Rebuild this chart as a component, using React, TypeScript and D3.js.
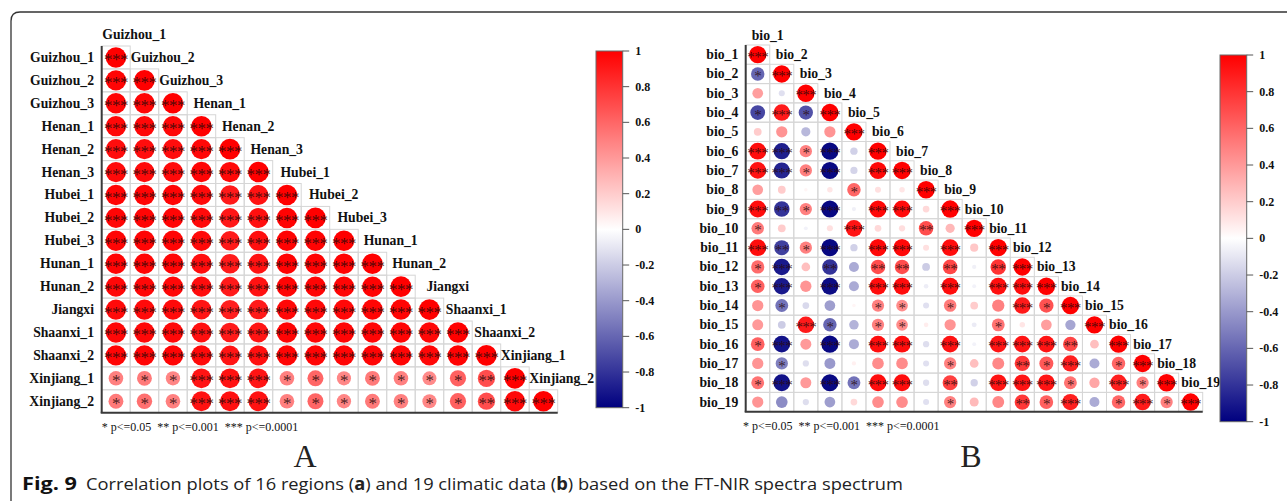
import React from "react";
import * as d3 from "d3";

// Panel A: sampling regions
const regions = [
  "Guizhou_1", "Guizhou_2", "Guizhou_3", "Henan_1", "Henan_2", "Henan_3",
  "Hubei_1", "Hubei_2", "Hubei_3", "Hunan_1", "Hunan_2", "Jiangxi",
  "Shaanxi_1", "Shaanxi_2", "Xinjiang_1", "Xinjiang_2",
];

// lower triangle (row i holds columns 0..i)
const regionCorr: number[][] = [
  [1],
  [0.98, 1],
  [0.98, 0.98, 1],
  [0.97, 0.97, 0.97, 1],
  [0.95, 0.95, 0.95, 0.97, 1],
  [0.96, 0.96, 0.96, 0.98, 0.97, 1],
  [0.98, 0.98, 0.98, 0.96, 0.9, 0.93, 1],
  [0.98, 0.98, 0.98, 0.96, 0.91, 0.94, 0.99, 1],
  [0.98, 0.98, 0.98, 0.96, 0.9, 0.94, 0.99, 0.99, 1],
  [0.98, 0.98, 0.98, 0.95, 0.9, 0.93, 0.99, 0.99, 0.99, 1],
  [0.97, 0.97, 0.97, 0.95, 0.9, 0.93, 0.98, 0.98, 0.98, 0.99, 1],
  [0.96, 0.96, 0.96, 0.92, 0.88, 0.9, 0.97, 0.97, 0.97, 0.98, 0.98, 1],
  [0.97, 0.97, 0.97, 0.94, 0.9, 0.92, 0.98, 0.98, 0.98, 0.98, 0.98, 0.97, 1],
  [0.98, 0.98, 0.98, 0.96, 0.92, 0.94, 0.98, 0.98, 0.98, 0.98, 0.98, 0.97, 0.99, 1],
  [0.5, 0.52, 0.48, 0.92, 0.93, 0.92, 0.5, 0.6, 0.47, 0.52, 0.5, 0.46, 0.62, 0.7, 1],
  [0.52, 0.56, 0.5, 0.93, 0.94, 0.93, 0.5, 0.6, 0.48, 0.52, 0.5, 0.47, 0.62, 0.7, 0.97, 1],
];

// significance level per cell: 0 none, 1 *, 2 **, 3 ***
const regionStars: number[][] = [
  [3],
  [3, 3],
  [3, 3, 3],
  [3, 3, 3, 3],
  [3, 3, 3, 3, 3],
  [3, 3, 3, 3, 3, 3],
  [3, 3, 3, 3, 3, 3, 3],
  [3, 3, 3, 3, 3, 3, 3, 3],
  [3, 3, 3, 3, 3, 3, 3, 3, 3],
  [3, 3, 3, 3, 3, 3, 3, 3, 3, 3],
  [3, 3, 3, 3, 3, 3, 3, 3, 3, 3, 3],
  [3, 3, 3, 3, 3, 3, 3, 3, 3, 3, 3, 3],
  [3, 3, 3, 3, 3, 3, 3, 3, 3, 3, 3, 3, 3],
  [3, 3, 3, 3, 3, 3, 3, 3, 3, 3, 3, 3, 3, 3],
  [1, 1, 1, 3, 3, 3, 1, 1, 1, 1, 1, 1, 1, 2, 3],
  [1, 1, 1, 3, 3, 3, 1, 1, 1, 1, 1, 1, 1, 2, 3, 3],
];

// Panel B: bioclimatic variables
const bioVars = [
  "bio_1", "bio_2", "bio_3", "bio_4", "bio_5", "bio_6", "bio_7", "bio_8", "bio_9", "bio_10",
  "bio_11", "bio_12", "bio_13", "bio_14", "bio_15", "bio_16", "bio_17", "bio_18", "bio_19",
];

const bioCorr: number[][] = [
  [1],
  [-0.6, 1],
  [0.38, -0.12, 1],
  [-0.72, 0.9, -0.68, 1],
  [0.2, 0.42, -0.28, 0.42, 1],
  [0.95, -0.88, 0.5, -0.97, -0.18, 1],
  [0.93, -0.86, 0.5, -0.97, -0.17, 0.97, 1],
  [0.38, 0.2, 0.04, 0.1, 0.6, 0.12, 0.1, 1],
  [0.95, -0.8, 0.5, -0.97, -0.06, 0.97, 0.96, 0.15, 1],
  [0.52, 0.2, -0.05, 0.12, 0.92, 0.15, 0.13, 0.7, 0.28, 1],
  [0.95, -0.75, 0.5, -0.97, -0.18, 0.97, 0.97, 0.12, 0.95, 0.22, 1],
  [0.58, -0.9, 0.25, -0.8, -0.33, 0.7, 0.7, -0.2, 0.72, -0.06, 0.8, 1],
  [0.62, -0.9, 0.42, -0.95, -0.33, 0.95, 0.95, -0.07, 0.95, -0.05, 0.94, 0.95, 1],
  [0.42, -0.55, -0.15, -0.38, 0.04, 0.5, 0.45, -0.12, 0.52, 0.2, 0.5, 0.9, 0.68, 1],
  [0.4, -0.2, 0.9, -0.6, -0.3, 0.5, 0.45, 0.07, 0.42, -0.08, 0.55, 0.1, 0.38, -0.35, 1],
  [0.62, -0.93, 0.4, -0.97, -0.33, 0.95, 0.95, -0.13, 0.93, -0.05, 0.92, 0.92, 0.92, 0.72, 0.25, 1],
  [0.42, -0.5, -0.13, -0.4, 0.06, 0.45, 0.45, -0.12, 0.5, 0.25, 0.47, 0.78, 0.65, 0.88, -0.33, 0.6, 1],
  [0.55, -0.93, 0.4, -0.97, -0.55, 0.95, 0.95, -0.13, 0.75, -0.18, 0.92, 0.92, 0.92, 0.55, 0.35, 0.88, 0.5, 1],
  [0.42, -0.45, -0.13, -0.38, 0.15, 0.45, 0.45, -0.12, 0.5, 0.27, 0.47, 0.78, 0.62, 0.88, -0.33, 0.6, 0.9, 0.5, 1],
];

const bioStars: number[][] = [
  [3],
  [1, 3],
  [0, 0, 3],
  [1, 3, 1, 3],
  [0, 0, 0, 0, 3],
  [3, 3, 1, 3, 0, 3],
  [3, 3, 1, 3, 0, 3, 3],
  [0, 0, 0, 0, 1, 0, 0, 3],
  [3, 2, 1, 3, 0, 3, 3, 0, 3],
  [1, 0, 0, 0, 3, 0, 0, 2, 0, 3],
  [3, 2, 1, 3, 0, 3, 3, 0, 3, 0, 3],
  [1, 3, 0, 2, 0, 2, 2, 0, 2, 0, 2, 3],
  [1, 3, 0, 3, 0, 3, 3, 0, 3, 0, 3, 3, 3],
  [0, 1, 0, 0, 0, 1, 1, 0, 1, 0, 0, 3, 1, 3],
  [0, 0, 3, 1, 0, 1, 1, 0, 0, 0, 1, 0, 0, 0, 3],
  [1, 3, 0, 3, 0, 3, 3, 0, 3, 0, 3, 3, 3, 2, 0, 3],
  [0, 1, 0, 0, 0, 0, 0, 0, 1, 0, 0, 2, 1, 3, 0, 1, 3],
  [1, 3, 0, 3, 1, 3, 3, 0, 2, 0, 3, 3, 3, 1, 0, 3, 1, 3],
  [0, 0, 0, 0, 0, 0, 0, 0, 1, 0, 0, 2, 1, 3, 0, 1, 3, 1, 3],
];

const legendTicks = [1, 0.8, 0.6, 0.4, 0.2, 0, -0.2, -0.4, -0.6, -0.8, -1];
const sigNote = "* p<=0.05  ** p<=0.001  *** p<=0.0001";
const panelNames = ["A", "B"];

const SERIF = "'Liberation Serif', 'Times New Roman', serif";
const SANS = "'Open Sans', 'Liberation Sans', sans-serif";

const colorScale = d3
  .scaleLinear<string>()
  .domain([-1, 0, 1])
  .range(["#00007f", "#ffffff", "#ff0000"]);

type PanelProps = {
  labels: string[];
  corr: number[][];
  stars: number[][];
  left: number;
  right: number;
  top: number;
  bottom: number;
  rowLabelX: number;
  colLabelShift: number;
  labelSize: number;
  starSize: number;
};

function CorrPanel(p: PanelProps) {
  const x = d3.scaleBand<string>().domain(p.labels).range([p.left, p.right]);
  const y = d3.scaleBand<string>().domain(p.labels).range([p.top, p.bottom]);
  const cw = x.bandwidth();
  const ch = y.bandwidth();
  const rScale = d3.scaleSqrt().domain([0, 1]).range([0, 0.45 * ch]);

  return (
    <g>
      {/* cell grid */}
      {p.corr.map((row, i) =>
        row.map((_, j) => (
          <rect
            key={`g${i}-${j}`}
            x={x(p.labels[j])}
            y={y(p.labels[i])}
            width={cw}
            height={ch}
            fill="none"
            stroke="#d6d6d6"
            strokeWidth={1}
          />
        ))
      )}
      {/* circles */}
      {p.corr.map((row, i) =>
        row.map((v, j) => (
          <circle
            key={`c${i}-${j}`}
            cx={(x(p.labels[j]) as number) + cw / 2}
            cy={(y(p.labels[i]) as number) + ch / 2}
            r={rScale(Math.abs(v))}
            fill={colorScale(v)}
          />
        ))
      )}
      {/* significance marks */}
      {p.stars.map((row, i) =>
        row.map((s, j) =>
          s > 0 ? (
            <text
              key={`s${i}-${j}`}
              x={(x(p.labels[j]) as number) + cw / 2}
              y={(y(p.labels[i]) as number) + ch / 2 + 0.47 * p.starSize}
              textAnchor="middle"
              fontFamily={SERIF}
              fontSize={p.starSize}
              letterSpacing={-0.6}
              fill="#2a0a0a"
              fillOpacity={0.85}
            >
              {"*".repeat(s)}
            </text>
          ) : null
        )
      )}
      {/* axis lines */}
      <line x1={p.left} x2={p.left} y1={p.top} y2={p.bottom} stroke="#3a3a3a" strokeWidth={2} />
      <line x1={p.left - 1} x2={p.right} y1={p.bottom} y2={p.bottom} stroke="#3a3a3a" strokeWidth={2} />
      {/* row labels */}
      {p.labels.map((lab) => (
        <text
          key={`r${lab}`}
          x={p.rowLabelX}
          y={(y(lab) as number) + ch / 2}
          textAnchor="end"
          dominantBaseline="central"
          fontFamily={SERIF}
          fontWeight="bold"
          fontSize={p.labelSize}
          fill="#111"
        >
          {lab}
        </text>
      ))}
      {/* diagonal column labels */}
      {p.labels.map((lab) => (
        <text
          key={`d${lab}`}
          x={(x(lab) as number) + p.colLabelShift}
          y={(y(lab) as number) - ch / 2}
          textAnchor="middle"
          dominantBaseline="central"
          fontFamily={SERIF}
          fontWeight="bold"
          fontSize={p.labelSize}
          fill="#111"
        >
          {lab}
        </text>
      ))}
    </g>
  );
}

function ColorBar({ id, x, width, top, bottom }: { id: string; x: number; width: number; top: number; bottom: number }) {
  const y = d3.scaleLinear().domain([-1, 1]).range([bottom, top]);
  const stops = d3.range(0, 1.0001, 0.05);
  return (
    <g>
      <defs>
        <linearGradient id={id} x1="0" y1="1" x2="0" y2="0">
          {stops.map((t) => (
            <stop key={t} offset={t} stopColor={colorScale(-1 + 2 * t)} />
          ))}
        </linearGradient>
      </defs>
      <rect x={x} y={top} width={width} height={bottom - top} fill={`url(#${id})`} stroke="#6a6a6a" strokeWidth={1} />
      {legendTicks.map((t) => (
        <g key={t}>
          <line x1={x + width} x2={x + width + 6.5} y1={y(t)} y2={y(t)} stroke="#555" strokeWidth={1} />
          <text
            x={x + width + 12.5}
            y={y(t)}
            dominantBaseline="central"
            fontFamily={SERIF}
            fontWeight="bold"
            fontSize={12}
            fill="#111"
          >
            {String(Math.round(t * 10) / 10)}
          </text>
        </g>
      ))}
    </g>
  );
}

export default function App() {
  return (
    <svg
      width={1287}
      height={501}
      viewBox="0 0 1287 501"
      style={{ position: "absolute", left: 0, top: 0, background: "#fff" }}
    >
      {/* figure frame */}
      <path d="M 11 501 L 11 21 Q 11 12 20 12 L 1287 12" fill="none" stroke="#333" strokeWidth={1.3} />

      <CorrPanel
        labels={regions}
        corr={regionCorr}
        stars={regionStars}
        left={101.7}
        right={557.7}
        top={46}
        bottom={412.7}
        rowLabelX={94}
        colLabelShift={32.5}
        labelSize={13.7}
        starSize={17}
      />
      <ColorBar id="cbA" x={596} width={26.7} top={51} bottom={407.7} />
      <text x={101.7} y={431} fontFamily={SERIF} fontSize={12} fill="#111" style={{ whiteSpace: "pre" }}>
        {sigNote}
      </text>

      <CorrPanel
        labels={bioVars}
        corr={bioCorr}
        stars={bioStars}
        left={745.7}
        right={1202.7}
        top={45}
        bottom={411.7}
        rowLabelX={738.3}
        colLabelShift={22}
        labelSize={13.7}
        starSize={15}
      />
      <ColorBar id="cbB" x={1220} width={26.7} top={55} bottom={421.7} />
      <text x={743} y={430} fontFamily={SERIF} fontSize={12} fill="#111" style={{ whiteSpace: "pre" }}>
        {sigNote}
      </text>

      <text x={305} y={467} textAnchor="middle" fontFamily={SERIF} fontSize={32} fill="#222">
        {panelNames[0]}
      </text>
      <text x={971} y={467} textAnchor="middle" fontFamily={SERIF} fontSize={32} fill="#222">
        {panelNames[1]}
      </text>

      {/* caption */}
      <text x={22} y={490} fontFamily={SANS} fontSize={17} fontWeight="bold" fill="#111" textLength={55} lengthAdjust="spacingAndGlyphs">
        Fig. 9
      </text>
      <text x={86} y={490} fontFamily={SANS} fontSize={17} fill="#222" textLength={817} lengthAdjust="spacingAndGlyphs">
        Correlation plots of 16 regions (<tspan fontWeight="bold">a</tspan>) and 19 climatic data (<tspan fontWeight="bold">b</tspan>) based on the FT-NIR spectra spectrum
      </text>
    </svg>
  );
}
